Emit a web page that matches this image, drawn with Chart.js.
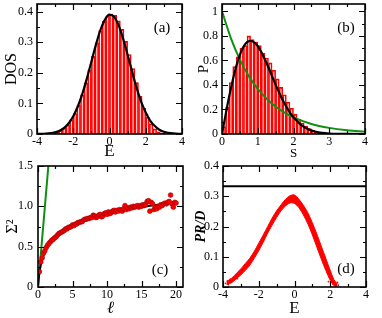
<!DOCTYPE html>
<html>
<head>
<meta charset="utf-8">
<script src="https://cdn.jsdelivr.net/npm/chart.js@4.4.0/dist/chart.umd.min.js"></script>
<style>
html, body { margin: 0; padding: 0; background: #fff; }
#wrap { position: relative; width: 382px; height: 318px; }
canvas { position: absolute; }
</style>
</head>
<body>
<div id="wrap">
  <canvas id="dosChart" width="191" height="159" style="left:0;top:0"></canvas>
  <canvas id="spacingChart" width="191" height="159" style="left:191px;top:0"></canvas>
  <canvas id="sigmaChart" width="191" height="159" style="left:0;top:159px"></canvas>
  <canvas id="prChart" width="191" height="159" style="left:191px;top:159px"></canvas>
</div>
<script>
// Panel (a) - density of states
const dosBins = [-3.3, -3.1, -2.9, -2.7, -2.5, -2.3, -2.1, -1.9, -1.7, -1.5, -1.3, -1.1, -0.9, -0.7, -0.5, -0.3, -0.1,
  0.1, 0.3, 0.5, 0.7, 0.9, 1.1, 1.3, 1.5, 1.7, 1.9, 2.1, 2.3, 2.5, 2.7, 2.9];
const dosHist = [0.002, 0.004, 0.007, 0.012, 0.019, 0.030, 0.046, 0.067, 0.094, 0.128, 0.167, 0.210, 0.254, 0.298, 0.338, 0.368, 0.386,
  0.392, 0.388, 0.370, 0.342, 0.303, 0.260, 0.214, 0.168, 0.124, 0.085, 0.055, 0.033, 0.017, 0.007, 0.003];
const gaussE = [-4, -3.5, -3, -2.75, -2.5, -2.25, -2, -1.75, -1.5, -1.25, -1, -0.75, -0.5, -0.25, 0,
  0.25, 0.5, 0.75, 1, 1.25, 1.5, 1.75, 2, 2.25, 2.5, 2.75, 3, 3.5, 4];
const gaussDos = [0.0002, 0.0013, 0.0057, 0.011, 0.020, 0.035, 0.058, 0.090, 0.131, 0.181, 0.236, 0.292, 0.340, 0.374, 0.390,
  0.383, 0.356, 0.312, 0.259, 0.203, 0.150, 0.105, 0.070, 0.043, 0.026, 0.014, 0.0075, 0.0018, 0.0003];

// Panel (b) - level spacing distribution
const sBins = [0.05, 0.15, 0.25, 0.35, 0.45, 0.55, 0.65, 0.75, 0.85, 0.95, 1.05, 1.15, 1.25, 1.35, 1.45, 1.55,
  1.65, 1.75, 1.85, 1.95, 2.05, 2.15, 2.25, 2.35, 2.45, 2.55, 2.65, 2.75, 2.85, 2.95, 3.05];
const sHist = [0.06, 0.22, 0.42, 0.55, 0.63, 0.70, 0.72, 0.80, 0.77, 0.75, 0.72, 0.66, 0.62, 0.58, 0.52, 0.45,
  0.38, 0.32, 0.26, 0.21, 0.16, 0.12, 0.09, 0.065, 0.045, 0.03, 0.02, 0.012, 0.008, 0.005, 0.003];
const goeS = [0, 0.1, 0.2, 0.3, 0.4, 0.5, 0.6, 0.7, 0.8, 0.9, 1.0, 1.1, 1.2, 1.3, 1.4, 1.5, 1.6, 1.7, 1.8, 1.9,
  2.0, 2.2, 2.4, 2.6, 2.8, 3.0, 3.5, 4.0];
const goeP = [0, 0.156, 0.305, 0.439, 0.554, 0.646, 0.711, 0.749, 0.760, 0.748, 0.716, 0.668, 0.608, 0.542, 0.472, 0.402,
  0.337, 0.276, 0.222, 0.175, 0.136, 0.077, 0.041, 0.020, 0.009, 0.004, 0.0003, 0];
const poissonS = [0, 0.25, 0.5, 0.75, 1, 1.25, 1.5, 1.75, 2, 2.5, 3, 3.5, 4];
const poissonP = [1, 0.78, 0.607, 0.472, 0.368, 0.287, 0.223, 0.174, 0.135, 0.082, 0.050, 0.030, 0.018];

// Panel (c) - number variance
const ell = [0.2, 0.4, 0.6, 0.8, 1.0, 1.2, 1.4, 1.6, 1.8, 2.0, 2.2, 2.4, 2.6, 2.8, 3.0, 3.2, 3.4, 3.6, 3.8, 4.0,
  4.2, 4.4, 4.6, 4.8, 5.0, 5.2, 5.4, 5.6, 5.8, 6.0, 6.2, 6.4, 6.6, 6.8, 7.0, 7.2, 7.4, 7.6, 7.8, 8.0,
  8.2, 8.4, 8.6, 8.8, 9.0, 9.2, 9.4, 9.6, 9.8, 10.0, 10.2, 10.4, 10.6, 10.8, 11.0, 11.2, 11.4, 11.6, 11.8, 12.0,
  12.2, 12.4, 12.6, 12.8, 13.0, 13.2, 13.4, 13.6, 13.8, 14.0, 14.2, 14.4, 14.6, 14.8, 15.0, 15.2, 15.4, 15.6, 15.8, 16.0,
  16.2, 16.4, 16.6, 16.8, 17.0, 17.2, 17.4, 17.6, 17.8, 18.0, 18.2, 18.4, 18.6, 18.8, 19.0, 19.2, 19.4, 19.6, 19.8, 20.0];
const sigma2 = [0.19, 0.31, 0.36, 0.42, 0.45, 0.49, 0.52, 0.54, 0.56, 0.58, 0.59, 0.61, 0.62, 0.64, 0.66, 0.67, 0.68, 0.69, 0.70, 0.72,
  0.72, 0.74, 0.74, 0.75, 0.77, 0.76, 0.78, 0.78, 0.80, 0.80, 0.81, 0.81, 0.83, 0.84, 0.84, 0.85, 0.85, 0.86, 0.86, 0.89,
  0.88, 0.86, 0.87, 0.89, 0.90, 0.87, 0.88, 0.91, 0.92, 0.90, 0.93, 0.91, 0.92, 0.94, 0.95, 0.93, 0.95, 0.94, 0.96, 0.95,
  0.94, 0.97, 1.01, 0.96, 0.98, 0.97, 0.99, 0.98, 1.00, 0.99, 1.00, 1.01, 0.99, 1.01, 1.00, 1.02, 1.01, 1.02, 1.06, 1.07,
  0.94, 1.05, 1.03, 0.96, 0.98, 0.97, 1.00, 0.99, 1.02, 1.01, 1.03, 1.04, 1.03, 1.05, 1.06, 1.14, 1.03, 0.99, 1.05, 1.04];
const goeL = [0, 0.1, 0.2, 0.3, 0.5, 0.75, 1, 1.5, 2, 3, 4, 5, 6, 7, 8, 9, 10, 12, 14, 16, 18, 20];
const goeSigma = [0, 0.09, 0.16, 0.22, 0.30, 0.37, 0.44, 0.52, 0.58, 0.665, 0.72, 0.77, 0.805, 0.835, 0.863, 0.887, 0.908, 0.945, 0.976, 1.004, 1.028, 1.049];
const poissonL = [0, 1.6];
const poissonSigma = [0, 1.6];

// Panel (d) - participation ratio (band edges of the cloud)
const prE = [-3.8, -3.5, -3.2, -3.0, -2.75, -2.5, -2.25, -2.0, -1.75, -1.5, -1.25, -1.0, -0.75, -0.5, -0.25, 0.0,
  0.25, 0.5, 0.75, 1.0, 1.25, 1.5, 1.75, 2.0, 2.2, 2.4];
const prLow = [0.008, 0.015, 0.030, 0.040, 0.055, 0.072, 0.095, 0.120, 0.148, 0.178, 0.205, 0.230, 0.252, 0.268, 0.278, 0.276,
  0.262, 0.238, 0.208, 0.172, 0.132, 0.092, 0.055, 0.022, 0.005, 0.000];
const prHigh = [0.018, 0.030, 0.048, 0.060, 0.078, 0.095, 0.118, 0.145, 0.172, 0.200, 0.228, 0.252, 0.272, 0.290, 0.302, 0.304,
  0.290, 0.270, 0.245, 0.212, 0.175, 0.135, 0.095, 0.055, 0.025, 0.010];
const strayE = [-3.85, -3.75, -3.7, -3.6, -3.55, -3.45, -3.4, -3.3, -3.2, -3.1, -2.9, -2.6, -2.4, 1.9, 2.05, 2.15, 2.3, 2.4, 2.45];
const strayPR = [0.012, 0.020, 0.008, 0.025, 0.015, 0.030, 0.022, 0.035, 0.028, 0.045, 0.050, 0.070, 0.100, 0.018, 0.028, 0.010, 0.004, 0.015, 0.006];
const goePR = [0.333, 0.333];
const goePRE = [-4, 4];

const SERIF = "'Liberation Serif', 'Times New Roman', serif";
const RED = '#ff0000';
const GREEN = '#109010';
Chart.defaults.color = '#000';
Chart.defaults.font.family = SERIF;

const pts = (xs, ys) => xs.map((x, i) => ({ x: x, y: ys[i] }));

// inward major/minor ticks on all four sides, frame and panel letter
const framePlugin = {
  id: 'frame',
  afterDatasetsDraw(chart, args, o) {
    const { ctx, chartArea: a } = chart;
    const xs = chart.scales.x, ys = chart.scales.y;
    ctx.save();
    ctx.strokeStyle = '#000';
    ctx.lineWidth = 1.2;
    ctx.beginPath();
    const isMajor = (v, step) => Math.abs(v / step - Math.round(v / step)) < 1e-6;
    const nx = Math.floor((xs.max - xs.min) / o.xMinor + 1e-6);
    for (let i = 0; i <= nx; i++) {
      const v = xs.min + i * o.xMinor;
      const px = Math.round(xs.getPixelForValue(v)) + 0.5;
      const len = isMajor(v, o.xMajor) ? 6 : 3;
      ctx.moveTo(px, a.bottom); ctx.lineTo(px, a.bottom - len);
      ctx.moveTo(px, a.top); ctx.lineTo(px, a.top + len);
    }
    const ny = Math.floor((ys.max - ys.min) / o.yMinor + 1e-6);
    for (let i = 0; i <= ny; i++) {
      const v = ys.min + i * o.yMinor;
      const py = Math.round(ys.getPixelForValue(v)) + 0.5;
      const len = isMajor(v, o.yMajor) ? 6 : 3;
      ctx.moveTo(a.left, py); ctx.lineTo(a.left + len, py);
      ctx.moveTo(a.right, py); ctx.lineTo(a.right - len, py);
    }
    ctx.stroke();
    ctx.lineWidth = 1.6;
    ctx.strokeRect(a.left, a.top, a.right - a.left, a.bottom - a.top);
    ctx.fillStyle = '#000';
    ctx.font = '15px ' + SERIF;
    ctx.textAlign = 'center';
    ctx.textBaseline = 'middle';
    const ly = o.fromBottom ? a.bottom - o.labelDy : a.top + o.labelDy;
    ctx.fillText(o.label, a.right - o.labelDx, ly);
    ctx.restore();
  }
};

function axisSize(size) {
  return function (scale) {
    if (scale.isHorizontal()) {
      scale.height = size;
      scale.paddingLeft = 0;
      scale.paddingRight = 0;
    } else {
      scale.width = size;
      scale.paddingTop = 0;
      scale.paddingBottom = 0;
    }
  };
}

function makeOptions(c) {
  return {
    responsive: false,
    animation: false,
    events: [],
    layout: { padding: c.padding },
    plugins: {
      legend: { display: false },
      tooltip: { enabled: false },
      frame: c.frame
    },
    scales: {
      x: {
        type: 'linear',
        min: c.xMin, max: c.xMax,
        offset: false,
        grid: { display: false, drawTicks: false, offset: false },
        border: { display: false },
        ticks: {
          stepSize: c.xStep, includeBounds: false, autoSkip: false, maxRotation: 0,
          padding: c.xPad, font: { size: 12, family: SERIF },
          callback: c.xFmt
        },
        title: { display: true, text: c.xTitle, font: c.xTitleFont, padding: c.xTitlePad },
        afterFit: axisSize(c.xHeight)
      },
      y: {
        type: 'linear',
        min: c.yMin, max: c.yMax,
        grid: { display: false, drawTicks: false },
        border: { display: false },
        ticks: {
          stepSize: c.yStep, includeBounds: false, autoSkip: false,
          padding: c.yPad, font: { size: 12, family: SERIF },
          callback: c.yFmt
        },
        title: { display: true, text: c.yTitle, font: c.yTitleFont, padding: c.yTitlePad },
        afterFit: axisSize(c.yWidth)
      }
    }
  };
}

const intFmt = v => String(Math.round(v));
const oneDec = v => Math.abs(v) < 1e-9 ? '0' : v.toFixed(1);
const pFmt = v => Math.abs(v - Math.round(v)) < 1e-9 ? String(Math.round(v)) : v.toFixed(1);

// (a)
new Chart(document.getElementById('dosChart'), {
  type: 'bar',
  data: {
    datasets: [
      { type: 'line', data: pts(gaussE, gaussDos), borderColor: '#000', borderWidth: 2.2, pointRadius: 0,
        cubicInterpolationMode: 'monotone', order: 0 },
      { type: 'bar', data: pts(dosBins, dosHist), borderColor: RED, borderWidth: 1, backgroundColor: 'rgba(255,255,255,0)',
        categoryPercentage: 1, barPercentage: 1, order: 1 }
    ]
  },
  options: makeOptions({
    padding: { left: 0, right: 9, top: 4, bottom: 0 },
    xMin: -4, xMax: 4, xStep: 2, xFmt: intFmt, xPad: 1, xHeight: 25,
    yMin: 0, yMax: 0.425, yStep: 0.1, yFmt: oneDec, yPad: 4, yWidth: 37,
    xTitle: 'E', xTitleFont: { size: 17, family: SERIF }, xTitlePad: { top: 0, bottom: -3 },
    yTitle: 'DOS', yTitleFont: { size: 16, family: SERIF }, yTitlePad: { top: 2 },
    frame: { xMajor: 2, xMinor: 1, yMajor: 0.1, yMinor: 0.05, label: '(a)', labelDx: 20, labelDy: 24 }
  }),
  plugins: [framePlugin]
});

// (b)
new Chart(document.getElementById('spacingChart'), {
  type: 'bar',
  data: {
    datasets: [
      { type: 'line', data: pts(goeS, goeP), borderColor: '#000', borderWidth: 2.2, pointRadius: 0,
        cubicInterpolationMode: 'monotone', order: 0 },
      { type: 'line', data: pts(poissonS, poissonP), borderColor: GREEN, borderWidth: 2, pointRadius: 0,
        cubicInterpolationMode: 'monotone', order: 0 },
      { type: 'bar', data: pts(sBins, sHist), borderColor: RED, borderWidth: 1, backgroundColor: 'rgba(255,255,255,0)',
        categoryPercentage: 1, barPercentage: 1, order: 1 }
    ]
  },
  options: makeOptions({
    padding: { left: 0, right: 17, top: 4, bottom: 0 },
    xMin: 0, xMax: 4, xStep: 1, xFmt: intFmt, xPad: 1, xHeight: 25,
    yMin: 0, yMax: 1.06, yStep: 0.2, yFmt: pFmt, yPad: 4, yWidth: 31,
    xTitle: 'S', xTitleFont: { size: 13, family: SERIF }, xTitlePad: { top: 0, bottom: -2 },
    yTitle: 'P', yTitleFont: { size: 15, family: SERIF }, yTitlePad: { top: 4 },
    frame: { xMajor: 1, xMinor: 0.5, yMajor: 0.2, yMinor: 0.1, label: '(b)', labelDx: 19, labelDy: 24 }
  }),
  plugins: [framePlugin]
});

// (c)
new Chart(document.getElementById('sigmaChart'), {
  type: 'scatter',
  data: {
    datasets: [
      { type: 'scatter', data: pts(ell, sigma2), pointRadius: 2.4, backgroundColor: RED, borderColor: '#900',
        borderWidth: 0.6, order: 0 },
      { type: 'line', data: pts(goeL, goeSigma), borderColor: '#000', borderWidth: 1.8, pointRadius: 0,
        cubicInterpolationMode: 'monotone', order: 1 },
      { type: 'line', data: pts(poissonL, poissonSigma), borderColor: GREEN, borderWidth: 2, pointRadius: 0, order: 1 }
    ]
  },
  options: makeOptions({
    padding: { left: 0, right: 8, top: 7, bottom: 0 },
    xMin: 0, xMax: 21, xStep: 5, xFmt: intFmt, xPad: 1, xHeight: 31,
    yMin: 0, yMax: 1.5, yStep: 0.5, yFmt: oneDec, yPad: 5, yWidth: 38,
    xTitle: '\u2113', xTitleFont: { size: 17, family: SERIF, style: 'italic' }, xTitlePad: { top: 0, bottom: -1 },
    yTitle: '\u03a3\u00b2', yTitleFont: { size: 16, family: SERIF }, yTitlePad: { top: 3 },
    frame: { xMajor: 5, xMinor: 2.5, yMajor: 0.5, yMinor: 0.25, label: '(c)', labelDx: 23, labelDy: 17, fromBottom: true }
  }),
  plugins: [framePlugin]
});

// (d)
new Chart(document.getElementById('prChart'), {
  type: 'line',
  data: {
    datasets: [
      { data: pts(prE, prLow), borderColor: RED, borderWidth: 1, pointRadius: 0, fill: false, tension: 0.3, order: 2 },
      { data: pts(prE, prHigh), borderColor: RED, borderWidth: 1, pointRadius: 0, fill: '-1',
        backgroundColor: RED, tension: 0.3, order: 2 },
      { type: 'scatter', data: pts(strayE, strayPR), pointRadius: 0.9, backgroundColor: RED, borderWidth: 0, order: 1 },
      { data: pts(goePRE, goePR), borderColor: '#000', borderWidth: 2, pointRadius: 0, order: 0 }
    ]
  },
  options: makeOptions({
    padding: { left: 0, right: 16, top: 7, bottom: 0 },
    xMin: -4, xMax: 4, xStep: 2, xFmt: intFmt, xPad: 1, xHeight: 31,
    yMin: 0, yMax: 0.4, yStep: 0.1, yFmt: oneDec, yPad: 4, yWidth: 32,
    xTitle: 'E', xTitleFont: { size: 17, family: SERIF }, xTitlePad: { top: 0, bottom: -1 },
    yTitle: 'PR/D', yTitleFont: { size: 14, family: SERIF, style: 'italic', weight: 'bold' }, yTitlePad: { top: 2 },
    frame: { xMajor: 2, xMinor: 1, yMajor: 0.1, yMinor: 0.05, label: '(d)', labelDx: 20, labelDy: 18, fromBottom: true }
  }),
  plugins: [framePlugin]
});
</script>
</body>
</html>
